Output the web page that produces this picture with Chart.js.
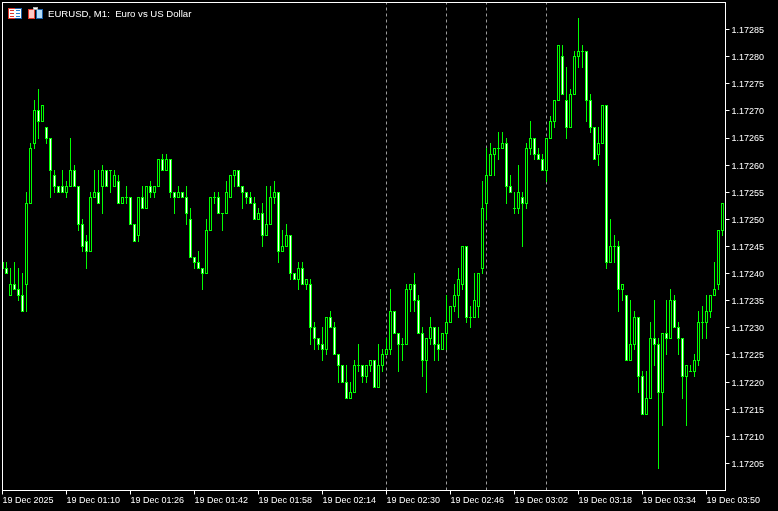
<!DOCTYPE html>
<html>
<head>
<meta charset="utf-8">
<title>EURUSD, M1</title>
<script src="https://cdn.jsdelivr.net/npm/chart.js@4/dist/chart.umd.min.js"></script>
<style>
  html, body { margin: 0; background: #000; }
  canvas { display: block; }
</style>
</head>
<body>
<canvas id="chart" width="778" height="511"></canvas>
<script>
// prices are kept as points above 1.17200
const basePrice = 1.172;
const pointSize = 0.00001;

const opens = [
  42,41,36,38,37,36,38,53,64,70,68,67,65,58,56,56,55,56,59,56,
  49,46,44,54,55,56,59,59,56,57,53,54,54,49,47,54,52,56,55,56,
  61,59,61,55,54,55,54,50,43,42,41,40,48,54,54,51,51,54,58,59,
  56,55,54,53,50,51,47,49,54,55,44,45,47,40,39,41,38,38,30,28,
  27,26,32,30,25,23,20,17,18,23,23,21,23,24,19,23,25,26,33,29,
  27,27,37,38,35,29,24,28,30,27,26,29,31,34,36,38,45,32,32,34,
  41,53,58,62,63,63,64,56,52,52,54,53,63,65,62,61,59,65,68,72,
  80,72,67,73,80,81,81,72,67,62,64,71,42,45,45,37,36,24,27,32,
  21,14,17,28,27,18,29,28,35,30,28,21,22,22,24,31,31,33,36,38,48
];
const closes = [
  41,40,38,37,36,33,53,63,70,68,71,65,59,56,55,55,56,59,56,49,
  45,44,54,55,53,59,56,59,58,53,54,54,49,46,54,52,56,55,56,61,
  59,61,55,54,55,54,51,43,42,41,40,48,54,54,51,51,55,58,59,56,
  55,54,53,50,51,47,49,54,55,44,45,47,40,39,41,38,39,30,28,27,
  26,32,30,25,23,20,17,18,23,23,21,23,24,19,23,25,26,33,29,27,
  27,37,38,35,29,24,28,30,27,26,29,31,34,36,39,45,32,32,35,40,
  52,58,62,63,63,64,56,55,52,55,53,63,65,62,61,59,65,68,72,82,
  73,67,73,80,81,81,72,67,61,64,71,42,45,45,37,38,24,27,32,21,
  14,17,28,27,18,29,28,35,30,28,21,23,22,24,31,31,33,36,37,48,53
];
const highs = [
  42,42,41,42,41,40,55,64,72,74,71,67,65,59,56,59,57,65,60,56,
  50,47,55,59,59,60,59,59,59,58,54,56,54,49,54,56,56,57,56,61,
  62,62,61,55,56,55,56,52,43,44,41,50,54,55,55,51,57,58,59,59,
  56,55,55,54,52,53,56,56,57,55,48,49,47,40,42,42,39,39,31,28,
  30,32,33,31,25,23,23,20,24,27,23,23,24,24,27,26,28,37,33,29,
  28,38,38,40,36,30,28,32,30,30,29,36,34,38,41,45,45,34,40,40,
  57,63,64,63,66,66,65,58,55,60,55,64,68,65,63,62,65,69,72,82,
  82,78,74,81,87,82,81,73,67,67,71,71,50,47,46,38,36,35,33,32,
  22,22,31,35,28,29,35,37,36,31,28,23,23,25,33,34,36,36,42,48,53
];
const lows = [
  41,40,36,37,35,33,33,53,63,65,68,64,54,55,55,55,54,56,56,48,
  44,41,44,54,53,51,56,55,56,53,53,53,49,46,46,52,52,54,54,56,
  59,59,54,51,54,54,49,43,41,41,37,40,48,53,51,48,51,54,56,56,
  52,53,53,50,50,45,47,49,53,42,44,45,39,39,37,38,37,27,26,26,
  24,25,30,25,20,20,17,17,18,22,20,20,22,19,19,22,25,25,29,22,
  24,27,33,33,29,21,18,27,24,24,26,26,31,33,32,37,31,30,32,32,
  40,50,58,58,61,63,53,55,51,51,45,52,62,61,61,59,57,65,67,72,
  73,65,67,73,78,78,68,66,61,60,64,41,42,42,33,35,24,24,26,18,
  14,14,17,23,4,12,25,28,30,25,17,12,22,21,23,28,28,32,36,37,47
];

const timeLabels = ['19 Dec 2025','19 Dec 01:10','19 Dec 01:26','19 Dec 01:42','19 Dec 01:58','19 Dec 02:14',
  '19 Dec 02:30','19 Dec 02:46','19 Dec 03:02','19 Dec 03:18','19 Dec 03:34','19 Dec 03:50'];
const timeTickStep = 16;
const priceTicks = [1.17205,1.17210,1.17215,1.17220,1.17225,1.17230,1.17235,1.17240,1.17245,
  1.17250,1.17255,1.17260,1.17265,1.17270,1.17275,1.17280,1.17285];
const separators = [96,111,121,136];
const chartTitle = 'EURUSD, M1:  Euro vs US Dollar';

const toPrice = p => +(basePrice + p * pointSize).toFixed(5);
const priceMin = 1.17200023;
const priceMax = 1.17289977;
const labelFont = { family: '"Liberation Sans", sans-serif', size: 9 };

const wicks = highs.map((h, i) => ({ x: i, y: [toPrice(lows[i]), toPrice(h)] }));
const bodies = opens.map((o, i) => ({ x: i, y: [toPrice(o), toPrice(closes[i])] }));
const bodyFill = opens.map((o, i) => closes[i] < o ? '#ffffff' : '#000000');

const separatorSets = separators.map(k => ({
  type: 'line',
  data: [{ x: k, y: priceMin }, { x: k, y: priceMax }],
  borderColor: '#9a9a9a',
  borderWidth: 1,
  borderDash: [3, 3],
  pointRadius: 0,
  order: 3
}));

// MT5 draws on whole pixels, so snap bars to rows
const snapBars = {
  id: 'snapBars',
  afterDatasetsUpdate(chart) {
    const yScale = chart.scales.y;
    chart.data.datasets.forEach((ds, d) => {
      if (ds.type === 'line') return;
      chart.getDatasetMeta(d).data.forEach((bar, i) => {
        const a = Math.floor(yScale.getPixelForValue(ds.data[i].y[0]));
        const b = Math.floor(yScale.getPixelForValue(ds.data[i].y[1]));
        bar.y = Math.min(a, b);
        bar.base = Math.max(a, b) + 1;
        bar.height = bar.base - bar.y;
      });
    });
  }
};

const frameAndHeader = {
  id: 'frameAndHeader',
  afterDraw(chart) {
    const { ctx, chartArea: area } = chart;
    ctx.save();
    ctx.strokeStyle = '#ffffff';
    ctx.lineWidth = 1;
    ctx.strokeRect(area.left, area.top, area.right - area.left, area.bottom - area.top);

    const box = (x, y, w, h, c) => { ctx.fillStyle = c; ctx.fillRect(x, y, w, h); };
    // table icon
    box(8, 8, 7, 11, '#e0382c');
    box(15, 8, 7, 11, '#1c5fa8');
    box(9, 9, 12, 9, '#ffffff');
    [10, 13, 16].forEach(y => { box(10, y, 4, 1, '#e0382c'); box(16, y, 4, 1, '#2a7fd0'); });
    // disk icon
    box(28, 9, 7, 10, '#e0382c');
    box(36, 9, 7, 10, '#1c5fa8');
    box(29, 10, 5, 8, '#ffc8c4');
    box(37, 10, 5, 8, '#b4dcf8');
    box(33, 7, 5, 3, '#b0b0b0');
    box(34, 8, 3, 1, '#ffffff');

    ctx.fillStyle = '#ffffff';
    ctx.font = '9.6px "Liberation Sans", sans-serif';
    ctx.textAlign = 'left';
    ctx.textBaseline = 'alphabetic';
    ctx.fillText(chartTitle, 48, 17);
    ctx.restore();
  }
};

new Chart(document.getElementById('chart'), {
  data: {
    datasets: [
      { type: 'bar', data: wicks, backgroundColor: '#00ff00', borderWidth: 0, barThickness: 1, inflateAmount: 0, order: 2 },
      { type: 'bar', data: bodies, backgroundColor: bodyFill, borderColor: '#00ff00', borderWidth: 1,
        borderSkipped: false, barThickness: 3, inflateAmount: 0, order: 1 },
      ...separatorSets
    ]
  },
  options: {
    responsive: false,
    devicePixelRatio: 1,
    animation: false,
    events: [],
    layout: { autoPadding: false, padding: { left: 2.5, top: 2.5, right: 0, bottom: 0 } },
    datasets: { bar: { grouped: false } },
    plugins: { legend: { display: false }, tooltip: { enabled: false } },
    scales: {
      x: {
        type: 'linear',
        offset: false,
        min: 0,
        max: 180.75,
        afterBuildTicks: axis => { axis.ticks = timeLabels.map((_, i) => ({ value: i * timeTickStep })); },
        afterFit: axis => { axis.height = 20.5; axis.paddingLeft = 0; axis.paddingRight = 0; },
        border: { color: '#ffffff' },
        grid: { drawOnChartArea: false, offset: false, color: '#ffffff', tickLength: 4 },
        ticks: {
          color: '#ffffff',
          font: labelFont,
          align: 'start',
          padding: 1,
          maxRotation: 0,
          autoSkip: false,
          callback: v => timeLabels[v / timeTickStep]
        }
      },
      y: {
        position: 'right',
        min: priceMin,
        max: priceMax,
        afterBuildTicks: axis => { axis.ticks = priceTicks.map(v => ({ value: v })); },
        afterFit: axis => { axis.width = 52.5; axis.paddingTop = 0; axis.paddingBottom = 0; },
        border: { color: '#ffffff' },
        grid: { drawOnChartArea: false, color: '#ffffff', tickLength: 4 },
        ticks: {
          color: '#ffffff',
          font: labelFont,
          padding: 2,
          labelOffset: 1,
          autoSkip: false,
          callback: v => v.toFixed(5)
        }
      }
    }
  },
  plugins: [snapBars, frameAndHeader]
});
</script>
</body>
</html>
